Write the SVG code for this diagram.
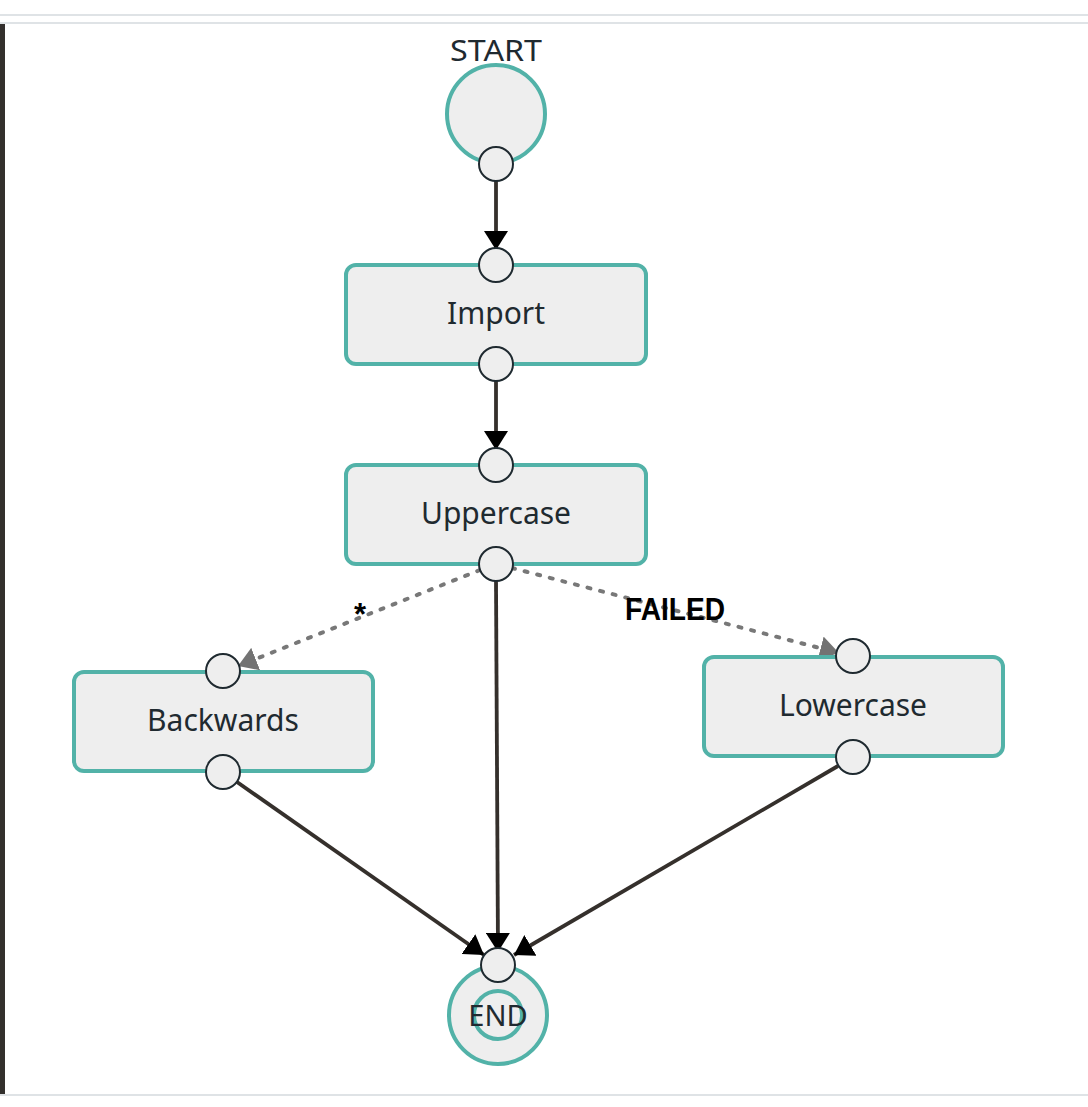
<svg xmlns="http://www.w3.org/2000/svg" width="1088" height="1107" viewBox="0 0 1088 1107">
<style>
.node{fill:#eeeeee;stroke:#52b2a8;stroke-width:4}
.port{fill:#eeeeee;stroke:#1f2a30;stroke-width:2}
.lbl{font-family:"Noto Sans","Liberation Sans",sans-serif;font-size:30px;fill:#1f2a30;text-anchor:middle}
.term{font-family:"Noto Sans","Liberation Sans",sans-serif;font-size:29px;fill:#1f2a30;text-anchor:middle}
.solid{stroke:#35302c;stroke-width:3.8;fill:none}
.dot{stroke:#787878;stroke-width:4;fill:none;stroke-dasharray:3 10;stroke-linecap:round}
.elbl{font-family:"Liberation Sans","Noto Sans",sans-serif;font-weight:bold;font-size:31px;fill:#000;text-anchor:middle}
</style>
<defs>
<marker id="ah" viewBox="0 0 19 24" refX="19" refY="12" markerWidth="19" markerHeight="24" markerUnits="userSpaceOnUse" orient="auto">
<path d="M0,0 L19,12 L0,24 Z" fill="#000"/>
</marker>
<marker id="ahg" viewBox="0 0 19 24" refX="19" refY="12" markerWidth="19" markerHeight="24" markerUnits="userSpaceOnUse" orient="auto">
<path d="M0,0 L19,12 L0,24 Z" fill="#737373"/>
</marker>
</defs>
<rect width="1088" height="1107" fill="#fff"/>
<g id="frame">
<line x1="0" y1="15" x2="1088" y2="15" stroke="#dfe3e6" stroke-width="2"/>
<line x1="0" y1="23" x2="1088" y2="23" stroke="#dfe3e6" stroke-width="2"/>
<line x1="0" y1="1095" x2="1088" y2="1095" stroke="#dfe3e6" stroke-width="2"/>
<rect x="0" y="24" width="5" height="1070" fill="#33302d"/>
</g>
<g id="connectors">
<line class="solid" x1="496" y1="181" x2="496" y2="250" marker-end="url(#ah)"/>
<line class="solid" x1="496" y1="381" x2="496" y2="450" marker-end="url(#ah)"/>
<line class="solid" x1="496" y1="581" x2="498" y2="952" marker-end="url(#ah)"/>
<line class="solid" x1="237" y1="782" x2="484" y2="955" marker-end="url(#ah)"/>
<line class="solid" x1="838" y1="766" x2="514" y2="955" marker-end="url(#ah)"/>
<line class="dot" x1="480" y1="570" x2="238" y2="666" marker-end="url(#ahg)"/>
<line class="dot" x1="512" y1="568" x2="839" y2="653" marker-end="url(#ahg)"/>
<text class="elbl" x="360" y="625">*</text>
<text class="elbl" x="675" y="620" textLength="100" lengthAdjust="spacingAndGlyphs">FAILED</text>
</g>
<g id="start">
<text class="term" x="496" y="61" textLength="92" lengthAdjust="spacingAndGlyphs">START</text>
<circle class="node" cx="496" cy="114" r="49"/>
<circle class="port" cx="496" cy="164" r="17"/>
</g>
<g id="import">
<rect class="node" x="346" y="265" width="300" height="99" rx="10"/>
<text class="lbl" x="496" y="324">Import</text>
<circle class="port" cx="496" cy="265" r="17"/>
<circle class="port" cx="496" cy="364" r="17"/>
</g>
<g id="uppercase">
<rect class="node" x="346" y="465" width="300" height="99" rx="10"/>
<text class="lbl" x="496" y="524">Uppercase</text>
<circle class="port" cx="496" cy="465" r="17"/>
<circle class="port" cx="496" cy="564" r="17"/>
</g>
<g id="backwards">
<rect class="node" x="74" y="672" width="299" height="99" rx="10"/>
<text class="lbl" x="223" y="731">Backwards</text>
<circle class="port" cx="223" cy="671" r="17"/>
<circle class="port" cx="223" cy="772" r="17"/>
</g>
<g id="lowercase">
<rect class="node" x="704" y="657" width="299" height="99" rx="10"/>
<text class="lbl" x="853" y="716">Lowercase</text>
<circle class="port" cx="853" cy="656" r="17"/>
<circle class="port" cx="853" cy="757" r="17"/>
</g>
<g id="end">
<circle class="node" cx="498" cy="1015" r="49"/>
<circle class="node" cx="498" cy="1015" r="24"/>
<text class="term" x="498" y="1026">END</text>
<circle class="port" cx="498" cy="965" r="17"/>
</g>
</svg>
